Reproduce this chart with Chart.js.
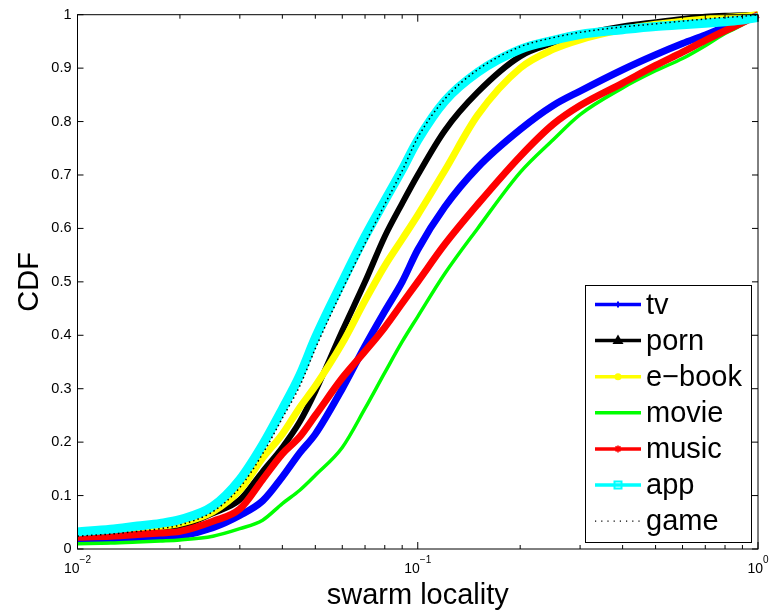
<!DOCTYPE html>
<html>
<head>
<meta charset="utf-8">
<script src="https://cdn.jsdelivr.net/npm/chart.js@4.4.1/dist/chart.umd.min.js"></script>
<style>
html,body{margin:0;padding:0;background:#fff;}
#wrap{width:771px;height:613px;}
</style>
</head>
<body>
<div id="wrap"><canvas id="cdfChart" width="771" height="613"></canvas></div>
<script>
// swarm locality (x) and the CDF of each content type
const locality = [0.01,0.0125,0.015,0.0175,0.02,0.025,0.03,0.035,0.04,0.045,0.05,0.06,0.07,0.08,0.09,0.1,0.12,0.15,0.2,0.25,0.3,0.4,0.5,0.6,0.7,0.8,0.9,1];
const tv    = [0.014,0.016,0.019,0.021,0.024,0.04,0.063,0.09,0.135,0.18,0.215,0.3,0.38,0.445,0.5,0.56,0.64,0.714,0.785,0.83,0.857,0.897,0.925,0.946,0.962,0.977,0.988,1.0];
const porn  = [0.024,0.027,0.031,0.036,0.042,0.067,0.092,0.145,0.19,0.238,0.295,0.408,0.5,0.585,0.647,0.70,0.783,0.855,0.922,0.947,0.962,0.978,0.986,0.992,0.996,0.998,0.999,1.0];
const ebook = [0.03,0.033,0.037,0.042,0.048,0.07,0.11,0.17,0.215,0.265,0.305,0.385,0.465,0.53,0.58,0.625,0.708,0.812,0.9,0.935,0.953,0.972,0.982,0.988,0.992,0.995,0.997,1.0];
const movie = [0.01,0.011,0.013,0.015,0.017,0.024,0.038,0.054,0.085,0.11,0.138,0.19,0.263,0.33,0.388,0.435,0.515,0.6,0.705,0.766,0.813,0.863,0.895,0.918,0.942,0.965,0.981,1.0];
const music = [0.022,0.024,0.027,0.03,0.033,0.052,0.075,0.13,0.178,0.21,0.25,0.32,0.37,0.415,0.46,0.50,0.57,0.645,0.735,0.795,0.83,0.872,0.905,0.93,0.952,0.97,0.985,1.0];
const app   = [0.032,0.037,0.043,0.048,0.055,0.08,0.13,0.195,0.262,0.325,0.395,0.5,0.585,0.652,0.71,0.765,0.838,0.892,0.935,0.952,0.963,0.972,0.978,0.981,0.984,0.987,0.99,0.995];
const game  = [0.024,0.028,0.033,0.038,0.045,0.07,0.115,0.178,0.245,0.305,0.375,0.485,0.572,0.645,0.708,0.77,0.842,0.897,0.94,0.957,0.967,0.977,0.983,0.988,0.992,0.995,0.997,1.0];

const seriesNames = ["tv","porn","e\u2212book","movie","music","app","game"];
const decades = [0.01, 0.1, 1];
const decadeExp = ["\u22122","\u22121","0"];
const yMin = 0, yMax = 1, yStep = 0.1;

const FONT = "'Liberation Sans', Arial, Helvetica, sans-serif";

const styles = [
  {color:"#0000ff", width:7, marker:"plus"},
  {color:"#000000", width:6, marker:"triangle"},
  {color:"#ffff00", width:7, marker:"circle"},
  {color:"#00ff00", width:3.5, marker:null},
  {color:"#ff0000", width:7, marker:"star"},
  {color:"#00ffff", width:9, marker:"square"},
  {color:"#000000", width:1.5, marker:null, dash:[1.5,3]}
];
const values = [tv, porn, ebook, movie, music, app, game];

const datasets = values.map((vals, i) => ({
  label: seriesNames[i],
  data: locality.map((x, j) => ({x: x, y: vals[j]})),
  borderColor: styles[i].color,
  backgroundColor: styles[i].color,
  borderWidth: styles[i].width,
  borderDash: styles[i].dash || [],
  pointRadius: 0,
  fill: false,
  cubicInterpolationMode: "monotone",
  clip: false,
  order: values.length - i
}));

function drawMarker(ctx, kind, cx, cy, color) {
  ctx.save();
  ctx.fillStyle = color; ctx.strokeStyle = color;
  ctx.setLineDash([]);
  if (kind === "plus") {
    ctx.lineWidth = 2;
    ctx.beginPath();
    ctx.moveTo(cx-3, cy); ctx.lineTo(cx+3, cy);
    ctx.moveTo(cx, cy-3); ctx.lineTo(cx, cy+3);
    ctx.stroke();
  } else if (kind === "triangle") {
    ctx.beginPath();
    ctx.moveTo(cx, cy-6); ctx.lineTo(cx+5.5, cy+3.5); ctx.lineTo(cx-5.5, cy+3.5);
    ctx.closePath(); ctx.fill();
  } else if (kind === "circle") {
    ctx.beginPath(); ctx.arc(cx, cy, 3.5, 0, Math.PI*2); ctx.fill();
  } else if (kind === "star") {
    ctx.lineWidth = 1.6;
    ctx.beginPath();
    for (let k = 0; k < 4; k++) {
      const a = k*Math.PI/4;
      ctx.moveTo(cx-3.5*Math.cos(a), cy-3.5*Math.sin(a));
      ctx.lineTo(cx+3.5*Math.cos(a), cy+3.5*Math.sin(a));
    }
    ctx.stroke();
  } else if (kind === "square") {
    ctx.lineWidth = 2;
    ctx.strokeRect(cx-3.5, cy-3.5, 7, 7);
  }
  ctx.restore();
}

const matlabFrame = {
  id: "matlabFrame",
  afterDatasetsDraw(chart) {
    const ctx = chart.ctx;
    const a = chart.chartArea;
    const xs = chart.scales.x, ys = chart.scales.y;
    ctx.save();
    ctx.strokeStyle = "#000";
    ctx.lineWidth = 1;
    ctx.setLineDash([]);
    ctx.strokeRect(a.left, a.top, a.right - a.left, a.bottom - a.top);

    // x ticks (log, inward, top and bottom)
    ctx.beginPath();
    for (let e = -2; e <= 0; e++) {
      for (let k = 1; k <= 9; k++) {
        const v = k * Math.pow(10, e);
        if (v > 1.0001) break;
        const px = xs.getPixelForValue(v);
        const len = k === 1 ? 7 : 4;
        ctx.moveTo(px, a.bottom); ctx.lineTo(px, a.bottom - len);
        ctx.moveTo(px, a.top); ctx.lineTo(px, a.top + len);
      }
    }
    // y ticks (inward, left and right)
    ys.ticks.forEach(t => {
      const py = ys.getPixelForValue(t.value);
      ctx.moveTo(a.left, py); ctx.lineTo(a.left + 6, py);
      ctx.moveTo(a.right, py); ctx.lineTo(a.right - 6, py);
    });
    ctx.stroke();

    // x decade labels with superscript exponent
    ctx.fillStyle = "#000";
    ctx.textBaseline = "alphabetic";
    ctx.textAlign = "left";
    decades.forEach((v, i) => {
      const px = xs.getPixelForValue(v);
      ctx.font = "14px " + FONT;
      const wb = ctx.measureText("10").width;
      ctx.font = "10px " + FONT;
      const we = ctx.measureText(decadeExp[i]).width;
      let start = px - (wb + we) / 2;
      if (start + wb + we > chart.width - 2) start = chart.width - 2 - wb - we;
      ctx.font = "14px " + FONT;
      ctx.fillText("10", start, a.bottom + 24);
      ctx.font = "10px " + FONT;
      ctx.fillText(decadeExp[i], start + wb, a.bottom + 14);
    });

    // axis titles
    ctx.font = "29px " + FONT;
    ctx.textAlign = "center";
    ctx.fillText("swarm locality", (a.left + a.right) / 2, 604);
    ctx.save();
    ctx.translate(38, (a.top + a.bottom) / 2);
    ctx.rotate(-Math.PI / 2);
    ctx.fillText("CDF", 0, 0);
    ctx.restore();

    // legend box
    const lx = 585, ly = 285, lw = 166, lh = 257;
    ctx.fillStyle = "#fff";
    ctx.fillRect(lx, ly, lw, lh);
    ctx.strokeStyle = "#000";
    ctx.lineWidth = 1;
    ctx.strokeRect(lx + 0.5, ly + 0.5, lw, lh);
    seriesNames.forEach((name, i) => {
      const cy = 304.5 + i * 36.1;
      const st = styles[i];
      ctx.save();
      ctx.strokeStyle = st.color;
      ctx.lineWidth = st.dash ? 1.2 : 3.5;
      ctx.setLineDash(st.dash ? [1.2, 5] : []);
      ctx.beginPath(); ctx.moveTo(595, cy); ctx.lineTo(641, cy); ctx.stroke();
      ctx.restore();
      if (st.marker) drawMarker(ctx, st.marker, 618, cy, st.color);
      ctx.fillStyle = "#000";
      ctx.font = "29px " + FONT;
      ctx.textAlign = "left";
      ctx.textBaseline = "middle";
      ctx.fillText(name, 646, cy + 1);
    });
    ctx.restore();
  }
};

new Chart(document.getElementById("cdfChart"), {
  type: "line",
  data: { datasets: datasets },
  options: {
    responsive: false,
    animation: false,
    devicePixelRatio: 1,
    events: [],
    layout: { padding: { left: 0, top: 14, right: 13, bottom: 0 } },
    plugins: { legend: { display: false }, tooltip: { enabled: false } },
    scales: {
      x: {
        type: "logarithmic",
        min: 0.01, max: 1,
        grid: { display: false },
        border: { display: false },
        ticks: { display: false },
        afterFit: s => { s.height = 64; }
      },
      y: {
        min: yMin, max: yMax,
        grid: { display: false, drawTicks: false },
        border: { display: false },
        ticks: {
          stepSize: yStep,
          padding: 6,
          color: "#000",
          font: { family: FONT, size: 14.5 },
          callback: v => String(+v.toFixed(1))
        },
        afterFit: s => { s.width = 77.5; }
      }
    }
  },
  plugins: [matlabFrame]
});
</script>
</body>
</html>
